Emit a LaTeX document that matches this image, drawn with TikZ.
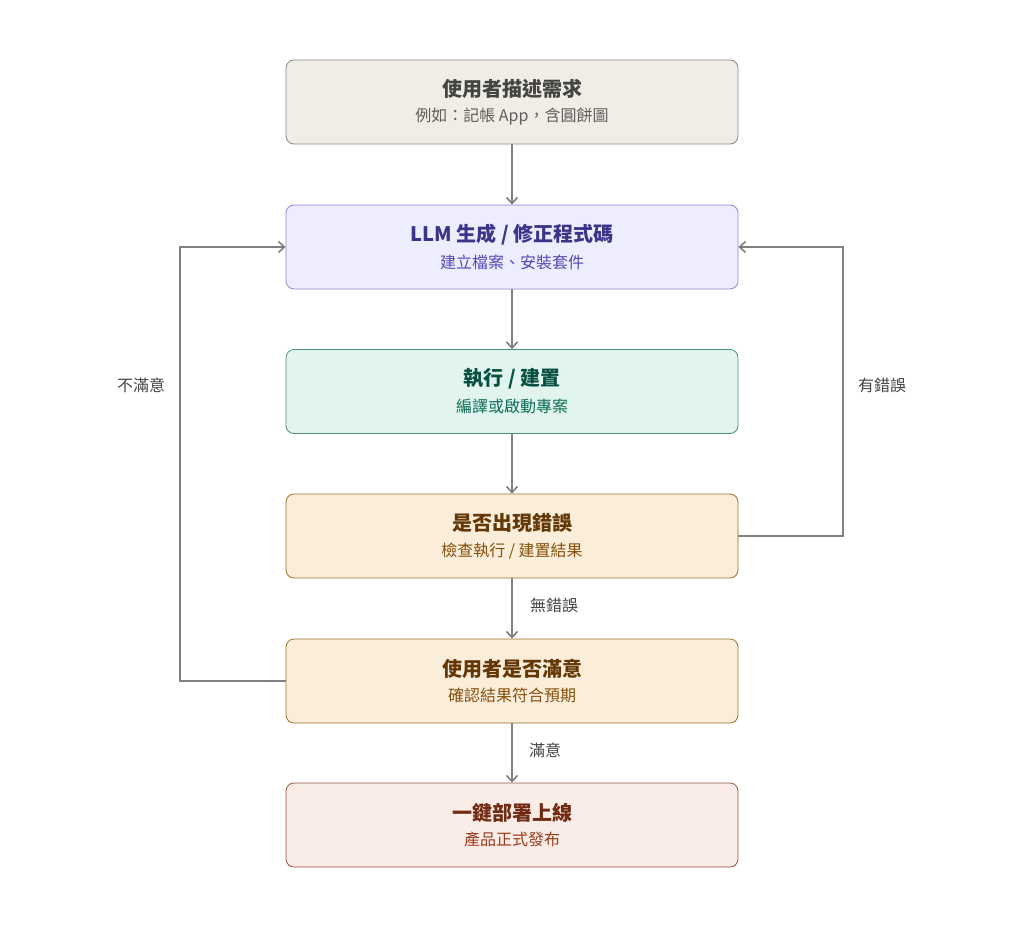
\documentclass[tikz,border=0pt]{standalone}
\usepackage{fontspec}
\setmainfont{Noto Sans CJK TC}
\usetikzlibrary{arrows.meta}
\begin{document}
\begin{tikzpicture}[x=1pt,y=-1pt,
 box/.style={draw,rounded corners=8pt,minimum width=452pt,minimum height=84pt,line width=0.8pt,align=center,inner sep=0pt},
 ln/.style={line width=1.6pt,draw={rgb,255:red,128;green,128;blue,128}},
 arr/.style={ln,-{Straight Barb[length=6pt,width=11pt]}},
 lab/.style={font=\fontsize{16}{18}\selectfont,text={rgb,255:red,68;green,68;blue,68}}]
\useasboundingbox (0,0) rectangle (1024,934);
\definecolor{f1}{HTML}{F0EDE6}\definecolor{d1}{HTML}{8A8780}\definecolor{t1}{HTML}{444441}\definecolor{s1}{HTML}{5F5E5A}
\definecolor{f2}{HTML}{EEEDFE}\definecolor{d2}{HTML}{8F86D8}\definecolor{t2}{HTML}{3C3489}\definecolor{s2}{HTML}{534AB7}
\definecolor{f3}{HTML}{E1F5EE}\definecolor{d3}{HTML}{4A8F72}\definecolor{t3}{HTML}{085041}\definecolor{s3}{HTML}{0F6E56}
\definecolor{f4}{HTML}{FAEEDA}\definecolor{d4}{HTML}{A0702A}\definecolor{t4}{HTML}{633806}\definecolor{s4}{HTML}{854F0B}
\definecolor{f6}{HTML}{FAECE7}\definecolor{d6}{HTML}{A05040}\definecolor{t6}{HTML}{712B13}\definecolor{s6}{HTML}{993C1D}
\node[box,fill=f1,draw=d1] (b1) at (512,102) {{\color{t1}\fontsize{20}{26}\selectfont\bfseries 使用者描述需求}\\[9pt]{\color{s1}\fontsize{16}{20}\selectfont 例如：記帳 App，含圓餅圖}};
\node[box,fill=f2,draw=d2] (b2) at (512,247) {{\color{t2}\fontsize{20}{26}\selectfont\bfseries LLM 生成 / 修正程式碼}\\[9pt]{\color{s2}\fontsize{16}{20}\selectfont 建立檔案、安裝套件}};
\node[box,fill=f3,draw=d3] (b3) at (512,391.5) {{\color{t3}\fontsize{20}{26}\selectfont\bfseries 執行 / 建置}\\[9pt]{\color{s3}\fontsize{16}{20}\selectfont 編譯或啟動專案}};
\node[box,fill=f4,draw=d4] (b4) at (512,536) {{\color{t4}\fontsize{20}{26}\selectfont\bfseries 是否出現錯誤}\\[9pt]{\color{s4}\fontsize{16}{20}\selectfont 檢查執行 / 建置結果}};
\node[box,fill=f4,draw=d4] (b5) at (512,681) {{\color{t4}\fontsize{20}{26}\selectfont\bfseries 使用者是否滿意}\\[9pt]{\color{s4}\fontsize{16}{20}\selectfont 確認結果符合預期}};
\node[box,fill=f6,draw=d6] (b6) at (512,825) {{\color{t6}\fontsize{20}{26}\selectfont\bfseries 一鍵部署上線}\\[9pt]{\color{s6}\fontsize{16}{20}\selectfont 產品正式發布}};
\coordinate (l1) at (180,681); \coordinate (l2) at (180,247);
\coordinate (r1) at (843,536); \coordinate (r2) at (843,247);
\draw[arr] (b1) -- (b2);
\draw[arr] (b2) -- (b3);
\draw[arr] (b3) -- (b4);
\draw[arr] (b4) -- (b5);
\draw[arr] (b5) -- (b6);
\draw[arr] (b5.west) -- (l1) -- (l2) -- (b2.west);
\draw[arr] (b4.east) -- (r1) -- (r2) -- (b2.east);
\node[lab] (n1) at (141,385) {不滿意};
\node[lab] (n2) at (882,385) {有錯誤};
\node[lab] (n3) at (554,605) {無錯誤};
\node[lab] (n4) at (545,750) {滿意};
\end{tikzpicture}
\end{document}
